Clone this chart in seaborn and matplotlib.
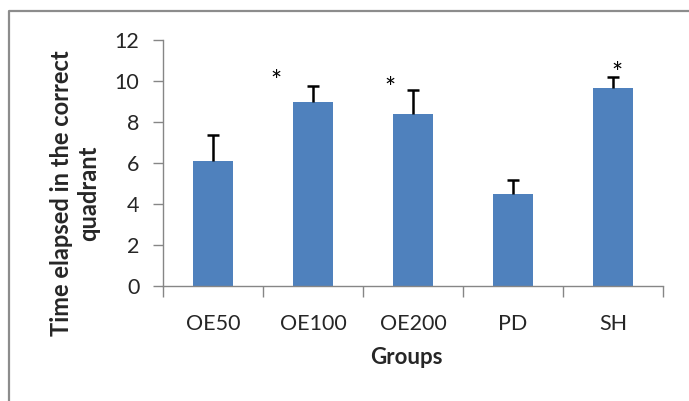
import matplotlib
matplotlib.use('Agg')
import matplotlib.pyplot as plt
import matplotlib.transforms as mtransforms
import seaborn as sns
import pandas as pd
from matplotlib.lines import Line2D

groups = ['OE50', 'OE100', 'OE200', 'PD', 'SH']
means = [6.1, 9.0, 8.37, 4.48, 9.67]
errors = [1.25, 0.74, 1.19, 0.68, 0.51]
# significance marks: group and height of the asterisk
star_groups = ['OE100', 'OE200', 'SH']
star_heights = [10.3, 9.95, 10.7]
star_shift = [-0.37, -0.23, 0.04]

sns.set_style('white')
plt.rcParams['font.family'] = ['Lato', 'DejaVu Sans']

data = pd.DataFrame({'Group': groups, 'Time': means})

fig = plt.figure(figsize=(6.89, 4.01), dpi=100)
ax = fig.add_axes([163 / 689, 1 - 286 / 401, 500 / 689, 246 / 401])

sns.barplot(x='Group', y='Time', data=data, color='#4F81BD', width=0.4,
            saturation=1, edgecolor='none', ax=ax)
eb = ax.errorbar(range(len(groups)), means, yerr=[[0] * len(errors), errors],
                 fmt='none', ecolor='black', elinewidth=1.8, capsize=4, capthick=1.8)
eb[1][0].set_visible(False)  # hide lower caps, only upper whisker shown

# the asterisk glyph sits high in its box, so anchor on the baseline and shift down
star_trans = mtransforms.offset_copy(ax.transData, fig=fig, y=-15, units='dots')
for g, h, s in zip(star_groups, star_heights, star_shift):
    ax.text(groups.index(g) + s, h, '*', ha='center', va='baseline', fontsize=19,
            color='black', transform=star_trans)

ax.set_ylim(0, 12)
ax.set_xlim(-0.5, len(groups) - 0.5)
ax.set_yticks(range(0, 13, 2))
ax.tick_params(axis='y', length=7, width=1, color='#868686', pad=10, labelsize=15.5, left=True)
ax.set_xticks(range(len(groups)))
ax.set_xticks([i - 0.5 for i in range(len(groups) + 1)], minor=True)
ax.tick_params(axis='x', which='major', length=0, pad=20, labelsize=15.5)
ax.tick_params(axis='x', which='minor', length=8, width=1, color='#868686', bottom=True)

for side in ['top', 'right']:
    ax.spines[side].set_visible(False)
for side in ['left', 'bottom']:
    ax.spines[side].set_color('#868686')
    ax.spines[side].set_linewidth(1)

ax.set_xlabel('Groups', fontsize=16, fontweight='bold')
ax.xaxis.set_label_coords(0.486, -0.25)
ax.set_ylabel('')
fig.text(75 / 689, 1 - 193 / 401, 'Time elapsed in the correct\nquadrant', rotation=90,
         ha='center', va='center', multialignment='center', fontsize=17, fontweight='bold',
         linespacing=1.2)

# grey frame around the chart
fig.add_artist(Line2D([8.5 / 689, 8.5 / 689, 1], [0, 1 - 10.5 / 401, 1 - 10.5 / 401],
                      transform=fig.transFigure, color='#8c8c8c', linewidth=1.6))

fig.savefig('out.png', dpi=100)
